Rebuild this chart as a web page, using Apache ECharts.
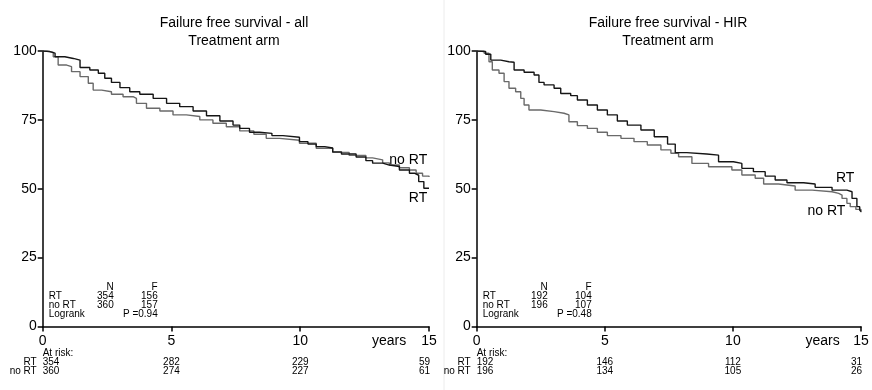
<!DOCTYPE html>
<html>
<head>
<meta charset="utf-8">
<script src="https://cdn.jsdelivr.net/npm/echarts@6/dist/echarts.min.js"></script>
<style>html,body{margin:0;padding:0;background:#fff}#c{width:872px;height:390px}</style>
</head>
<body>
<div id="c"></div>
<script>
// ---------- DATA ----------
const xTicks = [0, 5, 10, 15];
const yTicks = [0, 25, 50, 75, 100];
const titlesLeft = ["Failure free survival - all", "Treatment arm"];
const titlesRight = ["Failure free survival - HIR", "Treatment arm"];
const groups = ["RT", "no RT"];

// Kaplan-Meier steps [years, % failure free] - all patients
const allRT = [[0,100],[0.02,99.8],[0.28,99.2],[0.48,97.9],[0.86,97.3],[1.19,96.7],[1.45,94],[1.83,93.1],[2.16,91.9],[2.41,90.1],[2.67,88.6],[3.0,86.7],[3.38,85.2],[3.77,84.3],[4.29,82.8],[4.81,81],[5.32,79.8],[5.84,78.2],[6.36,76.5],[6.88,74.6],[7.39,73.1],[7.65,71.9],[8.03,70.5],[8.42,70.1],[8.9,69.3],[9.33,68.7],[9.97,67.1],[10.3,66.2],[10.62,65.3],[10.95,64.8],[11.26,63.4],[11.6,62.6],[12.17,61.5],[12.55,60.2],[12.81,59.3],[13.2,58.6],[13.46,58.1],[13.85,56.8],[14.24,55.6],[14.45,54.9],[14.6,52.6],[14.8,50.2],[15,50.2]];
const allNoRT = [[0,100],[0.16,99.5],[0.41,97.9],[0.6,94.9],[0.93,94.3],[1.12,92.5],[1.45,90.7],[1.77,88.3],[1.96,85.8],[2.29,85.2],[2.67,84.3],[3.12,83.4],[3.51,82.8],[3.64,81],[4.03,79.2],[4.55,78.2],[5.06,76.8],[5.58,76.2],[6.1,75],[6.61,73.8],[7.13,72.5],[7.65,71],[8.2,69.8],[8.68,68.3],[9.2,67.6],[9.97,66.5],[10.62,64.7],[11.26,63.2],[11.9,62.1],[12.55,61.2],[12.81,60.5],[13.2,59.4],[13.46,58.6],[13.85,57.6],[14.24,56.8],[14.5,55.6],[14.75,54.6],[15,54.3]];
// HIR patients
const hirRT = [[0,100],[0.02,99.8],[0.35,98.8],[0.55,96.7],[0.94,96.1],[1.26,95.9],[1.46,93.1],[1.85,92.3],[2.24,91.3],[2.43,88.6],[2.63,87.7],[3.02,86.5],[3.28,84.6],[3.67,83.8],[3.93,82.2],[4.32,80.4],[4.71,78.6],[5.1,76.8],[5.49,74.6],[5.88,73.1],[6.41,71.3],[6.93,68.9],[7.45,66.2],[7.75,63.1],[8.2,62.6],[8.98,62.2],[9.44,59.8],[10.02,59.2],[10.35,57.4],[10.8,56.2],[11.26,54.6],[11.65,53.2],[12.11,52.2],[12.76,51.7],[13.21,50.5],[13.87,49.5],[14.45,48.9],[14.65,46.5],[14.84,43.5],[14.95,42.3],[15,41.7]];
const hirNoRT = [[0,100],[0.29,99.2],[0.48,96.1],[0.61,93.1],[0.87,91.9],[1.07,88.9],[1.26,86.5],[1.52,85.2],[1.72,82.8],[1.85,80.4],[2.04,78.6],[2.5,78],[3.02,77.4],[3.41,76.8],[3.6,74.3],[3.93,72.9],[4.32,71.9],[4.71,70.5],[5.1,69.3],[5.63,68.3],[6.14,67.1],[6.66,65.9],[7.19,64.1],[7.58,62.9],[7.88,61.6],[8.4,59.2],[9.05,58],[9.96,56.8],[10.35,55],[10.87,53.8],[11.2,51.7],[11.78,51],[12.43,49.5],[13.09,48.9],[13.87,48.3],[14.13,47.7],[14.26,46.5],[14.45,44.7],[14.58,43.5],[14.8,42.5],[15,41.5]];

// Summary tables
const allN = [354, 360], allF = [156, 157], allP = "0.94";
const hirN = [192, 196], hirF = [104, 107], hirP = "0.48";
// Numbers at risk at xTicks
const allAtRiskRT = [354, 282, 229, 59];
const allAtRiskNoRT = [360, 274, 227, 61];
const hirAtRiskRT = [192, 146, 112, 31];
const hirAtRiskNoRT = [196, 134, 105, 26];

// ---------- CHART ----------
const FONT = '"Liberation Sans", Arial, Helvetica, sans-serif';
const chart = echarts.init(document.getElementById('c'), null, {renderer: 'canvas'});
const colRT = '#151515', colNo = '#6a6a6a';

function axisX(gi) {
  return {
    type: 'value', gridIndex: gi, min: 0, max: 15, interval: 5,
    axisLine: {show: true, onZero: false, lineStyle: {color: '#000', width: 1.5}},
    axisTick: {show: true, length: 5, lineStyle: {color: '#000', width: 1.5}},
    axisLabel: {show: true, color: '#000', fontSize: 14, fontFamily: FONT, margin: 8,
      customValues: xTicks},
    splitLine: {show: false}
  };
}
function axisY(gi) {
  return {
    type: 'value', gridIndex: gi, min: 0, max: 100, interval: 25,
    axisLine: {show: true, lineStyle: {color: '#000', width: 1.5}},
    axisTick: {show: true, length: 5, lineStyle: {color: '#000', width: 1.5}},
    axisLabel: {show: true, color: '#000', fontSize: 14, fontFamily: FONT, margin: 6,
      customValues: yTicks},
    splitLine: {show: false}
  };
}
function km(name, data, gi, color) {
  return {
    type: 'line', name: name, xAxisIndex: gi, yAxisIndex: gi, data: data,
    step: 'end', showSymbol: false, symbol: 'none', animation: false,
    lineStyle: {color: color, width: 1.4}, silent: true
  };
}

chart.setOption({
  animation: false,
  backgroundColor: '#fff',
  title: [
    {text: titlesLeft.join('\n'), left: 234, top: 14, padding: 0, textAlign: 'center',
     textStyle: {fontSize: 14, fontWeight: 'normal', color: '#000', fontFamily: FONT, lineHeight: 18}},
    {text: titlesRight.join('\n'), left: 668, top: 14, padding: 0, textAlign: 'center',
     textStyle: {fontSize: 14, fontWeight: 'normal', color: '#000', fontFamily: FONT, lineHeight: 18}}
  ],
  grid: [
    {left: 42.7, top: 51, width: 386.3, height: 275.5},
    {left: 476.7, top: 51, width: 384.3, height: 275.5}
  ],
  xAxis: [axisX(0), axisX(1)],
  yAxis: [axisY(0), axisY(1)],
  series: [
    km(groups[1], allNoRT, 0, colNo),
    km(groups[0], allRT, 0, colRT),
    km(groups[1], hirNoRT, 1, colNo),
    km(groups[0], hirRT, 1, colRT)
  ]
});

// ---------- Annotations (text) ----------
function txt(x, y, s, align, size, color) {
  return {type: 'text', x: x, y: y, silent: true,
    style: {text: s, fill: color || '#000', font: (size || 10) + 'px ' + FONT,
      textAlign: align || 'left', textVerticalAlign: 'middle'}};
}
const g = [];
// faint separator
g.push({type: 'line', shape: {x1: 444, y1: 0, x2: 444, y2: 390}, style: {stroke: '#ececec', lineWidth: 1}, silent: true});

function panel(gi, N, F, P, riskRT, riskNo, lblNo, lblRT, yearsT) {
  const o = chart.convertToPixel({gridIndex: gi}, [0, 0]);
  const x0 = o[0], y0 = o[1];
  // in-plot summary
  const rows = [y0 - 39, y0 - 30, y0 - 21, y0 - 12];
  g.push(txt(x0 + 71, rows[0], 'N', 'right'));
  g.push(txt(x0 + 115, rows[0], 'F', 'right'));
  g.push(txt(x0 + 6, rows[1], groups[0], 'left'));
  g.push(txt(x0 + 71, rows[1], String(N[0]), 'right'));
  g.push(txt(x0 + 115, rows[1], String(F[0]), 'right'));
  g.push(txt(x0 + 6, rows[2], groups[1], 'left'));
  g.push(txt(x0 + 71, rows[2], String(N[1]), 'right'));
  g.push(txt(x0 + 115, rows[2], String(F[1]), 'right'));
  g.push(txt(x0 + 6, rows[3], 'Logrank', 'left'));
  g.push(txt(x0 + 115, rows[3], 'P =' + P, 'right'));
  // years label
  const py = chart.convertToPixel({gridIndex: gi}, [yearsT, 0]);
  g.push(txt(py[0], y0 + 14.5, 'years', 'center', 14));
  // at risk table
  g.push(txt(x0, y0 + 27, 'At risk:', 'left'));
  g.push(txt(x0 - 6, y0 + 36, groups[0], 'right'));
  g.push(txt(x0 - 6, y0 + 45, groups[1], 'right'));
  xTicks.forEach((t, i) => {
    const p = chart.convertToPixel({gridIndex: gi}, [t, 0]);
    const al = i === 0 ? 'left' : (i === xTicks.length - 1 ? 'right' : 'center');
    const xx = p[0] + (i === xTicks.length - 1 ? 1 : 0);
    g.push(txt(xx, y0 + 36, String(riskRT[i]), al));
    g.push(txt(xx, y0 + 45, String(riskNo[i]), al));
  });
  // curve labels
  const a = chart.convertToPixel({gridIndex: gi}, lblNo);
  g.push(txt(a[0], a[1], groups[1], 'right', 14));
  const b = chart.convertToPixel({gridIndex: gi}, lblRT);
  g.push(txt(b[0], b[1], groups[0], 'right', 14));
}
panel(0, allN, allF, allP, allAtRiskRT, allAtRiskNoRT, [14.93, 60.4], [14.93, 46.6], 13.45);
panel(1, hirN, hirF, hirP, hirAtRiskRT, hirAtRiskNoRT, [14.39, 41.7], [14.74, 53.9], 13.5);
chart.setOption({graphic: g});
</script>
</body>
</html>
